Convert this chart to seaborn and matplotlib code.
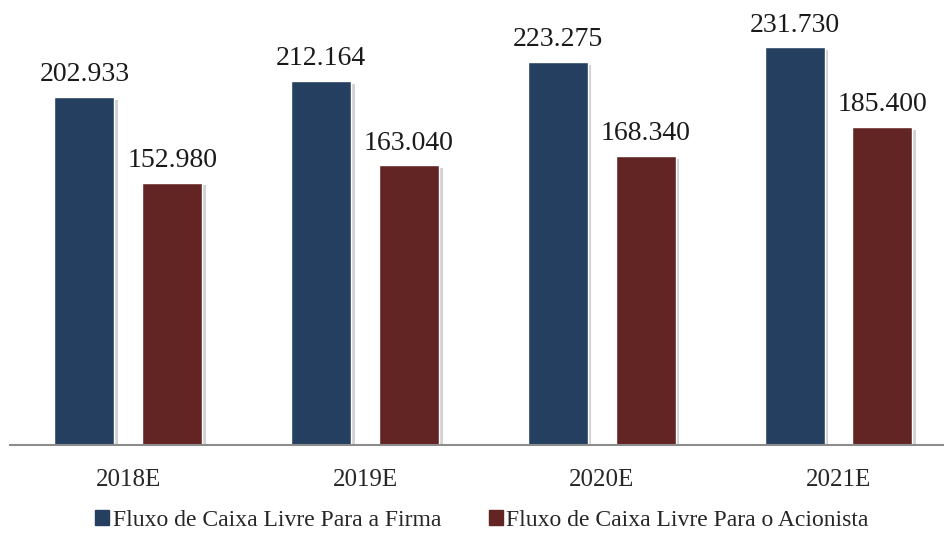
import matplotlib
matplotlib.use("Agg")
import matplotlib.pyplot as plt
import matplotlib.patheffects as pe
import seaborn as sns
import pandas as pd

# chart data
years = ["2018E", "2019E", "2020E", "2021E"]
firma = [202933, 212164, 223275, 231730]
acionista = [152980, 163040, 168340, 185400]
series_names = ["Fluxo de Caixa Livre Para a Firma", "Fluxo de Caixa Livre Para o Acionista"]
colors = ["#243F60", "#632523"]

df = pd.DataFrame({
    "ano": years * 2,
    "valor": firma + acionista,
    "serie": [series_names[0]] * len(years) + [series_names[1]] * len(years),
})

sns.set_style("white")
plt.rcParams["font.family"] = ["Liberation Serif", "DejaVu Serif"]

fig = plt.figure(figsize=(9.45, 5.35), dpi=100)
ax = fig.add_axes([0.0106, 0.168, 0.9894, 0.802])

sns.barplot(
    data=df, x="ano", y="valor", hue="serie", palette=colors,
    width=0.743, gap=0.318, ax=ax, legend=False, saturation=1,
)

# soft shadow and value labels
for patch in ax.patches:
    patch.set_path_effects([
        pe.SimplePatchShadow(offset=(2.5, -2), shadow_rgbFace="black", alpha=0.18),
        pe.Normal(),
    ])
for cont in ax.containers:
    labels = [f"{v:,.0f}".replace(",", ".") for v in cont.datavalues]
    ax.bar_label(cont, labels=labels, padding=7, fontsize=20, color="#1a1a1a")

ax.set_ylim(0, 250000)
ax.set_xlim(-0.5, 3.45)
ax.set_xlabel("")
ax.set_ylabel("")
ax.set_yticks([])
ax.tick_params(axis="x", length=0, pad=17, labelsize=18)
sns.despine(ax=ax, left=True, top=True, right=True)
ax.spines["bottom"].set_color("#8c8c8c")
ax.spines["bottom"].set_linewidth(1.5)

handles = [plt.Rectangle((0, 0), 1, 1, color=c) for c in colors]
fig.legend(
    handles, series_names, loc="lower center", bbox_to_anchor=(0.51, -0.032),
    ncol=2, frameon=False, fontsize=17, handlelength=0.6, handleheight=0.6,
    handletextpad=0.15, columnspacing=2.0,
)

fig.savefig("out.png", dpi=100)
